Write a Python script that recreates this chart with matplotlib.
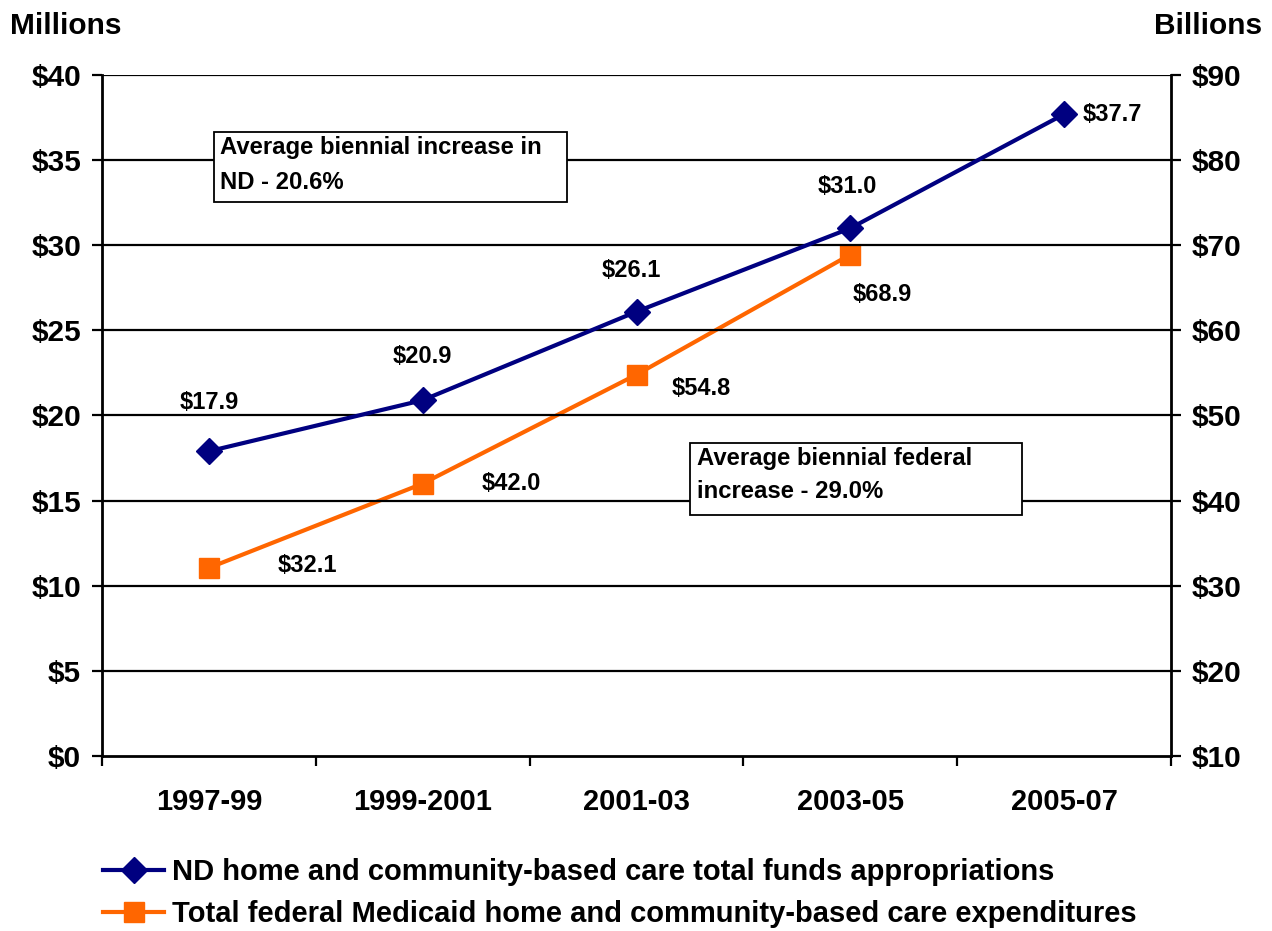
import matplotlib
matplotlib.use("Agg")
import matplotlib.pyplot as plt
from matplotlib.ticker import FixedLocator
from matplotlib.patches import Rectangle

plt.rcParams['font.family'] = ['Liberation Sans', 'DejaVu Sans']
plt.rcParams['font.weight'] = 'bold'

categories = ["1997-99", "1999-2001", "2001-03", "2003-05", "2005-07"]
nd_values = [17.9, 20.9, 26.1, 31.0, 37.7]          # millions (left axis)
fed_values = [32.1, 42.0, 54.8, 68.9]               # billions (right axis)
left_ticks = [0, 5, 10, 15, 20, 25, 30, 35, 40]
right_ticks = [10, 20, 30, 40, 50, 60, 70, 80, 90]
nd_name = "ND home and community-based care total funds appropriations"
fed_name = "Total federal Medicaid home and community-based care expenditures"

BLUE = "#000080"
ORANGE = "#FF6600"

fig = plt.figure(figsize=(12.72, 9.31), dpi=100)
ax = fig.add_axes([102/1272, 1-756/931, (1171-102)/1272, (756-75)/931])
ax2 = ax.twinx()

x = list(range(len(categories)))
ax.set_xlim(-0.5, len(categories) - 0.5)
ax.set_ylim(0, 40)
ax2.set_ylim(10, 90)

for v in left_ticks[1:]:
    ax.axhline(v, color="black", lw=1.6, zorder=0)

l2, = ax2.plot(x[:len(fed_values)], fed_values, color=ORANGE, lw=3, marker="s",
               ms=14, zorder=5, label=fed_name)
l1, = ax.plot(x, nd_values, color=BLUE, lw=3, marker="D", ms=13, zorder=5,
              label=nd_name)
ax.set_zorder(ax2.get_zorder() + 1)
ax.patch.set_visible(False)

lab_fs = 17
nd_offsets = [(0, 49), (0, 44), (-5, 41), (-3, 42), (48, 0)]
for xi, v, off in zip(x, nd_values, nd_offsets):
    ax.annotate(f"${v:.1f}", (xi, v), xytext=off, textcoords="offset pixels",
                ha="center", va="center", fontsize=lab_fs, fontweight="bold")
fed_offsets = [(98, 2), (89, 0), (65, -14), (32, -40)]
for xi, v, off in zip(x, fed_values, fed_offsets):
    ax2.annotate(f"${v:.1f}", (xi, v), xytext=off, textcoords="offset pixels",
                 ha="center", va="center", fontsize=lab_fs, fontweight="bold")

tick_fs = 21.5
ax.set_yticks(left_ticks)
ax.set_yticklabels([f"${t}" for t in left_ticks], fontsize=tick_fs, fontweight="bold")
ax2.set_yticks(right_ticks)
ax2.set_yticklabels([f"${t}" for t in right_ticks], fontsize=tick_fs, fontweight="bold")
ax.tick_params(axis="y", direction="out", length=7, width=1.6, pad=8)
ax2.tick_params(axis="y", direction="out", length=7, width=1.6, pad=8)

ax.set_xticks(x)
ax.set_xticklabels(categories, fontsize=21, fontweight="bold")
ax.tick_params(axis="x", which="major", length=0, pad=23)
ax.xaxis.set_minor_locator(FixedLocator([i - 0.5 for i in range(len(categories) + 1)]))
ax.tick_params(axis="x", which="minor", direction="out", length=7, width=1.6)
ax2.tick_params(axis="x", length=0)

for a in (ax, ax2):
    for s in a.spines.values():
        s.set_linewidth(2)
    a.spines["top"].set_visible(False)
ax.spines["right"].set_visible(False)
ax2.spines["bottom"].set_visible(False)
ax2.spines["left"].set_visible(False)

fig.text(10/1272, 1-26/931, "Millions", fontsize=21.5, fontweight="bold", va="center", ha="left")
fig.text(1262/1272, 1-26/931, "Billions", fontsize=21.5, fontweight="bold", va="center", ha="right")

box_fs = 17.2
# annotation box 1
ax.add_patch(Rectangle((0.1048, 0.8135), 0.3302, 0.1028, transform=ax.transAxes,
                       facecolor="white", edgecolor="black", lw=1.3, zorder=3))
ax.text(0.1103, 1-(148-75)/681, "Average biennial increase in", transform=ax.transAxes,
        fontsize=box_fs, fontweight="bold", ha="left", va="center", zorder=4)
ax.text(0.1103, 1-(183-75)/681, "ND - 20.6%", transform=ax.transAxes,
        fontsize=box_fs, fontweight="bold", ha="left", va="center", zorder=4)
# annotation box 2
ax.add_patch(Rectangle((0.5500, 0.3539), 0.3106, 0.1057, transform=ax.transAxes,
                       facecolor="white", edgecolor="black", lw=1.3, zorder=3))
ax.text((697-102)/1069, 1-(459-75)/681, "Average biennial federal", transform=ax.transAxes,
        fontsize=box_fs, fontweight="bold", ha="left", va="center", zorder=4)
ax.text((697-102)/1069, 1-(492-75)/681, "increase - 29.0%", transform=ax.transAxes,
        fontsize=box_fs, fontweight="bold", ha="left", va="center", zorder=4)

leg = fig.legend([l1, l2], [nd_name, fed_name], loc="upper left",
                 bbox_to_anchor=(103/1272, 1-858/931), frameon=False,
                 prop={"size": 21, "weight": "bold"}, handlelength=2.1,
                 handletextpad=0.25, labelspacing=0.48, borderaxespad=0,
                 borderpad=0)

fig.savefig("out.png", dpi=100)
